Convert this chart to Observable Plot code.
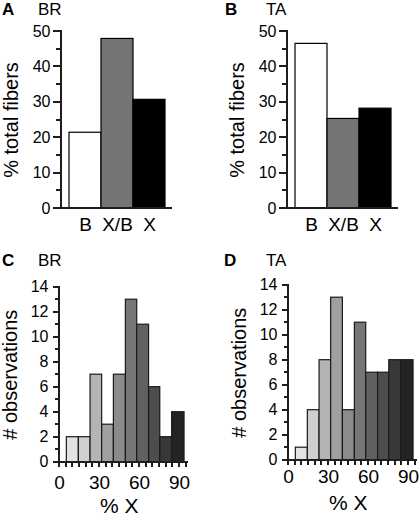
<!DOCTYPE html>
<html><head><meta charset="utf-8">
<script src="https://cdn.jsdelivr.net/npm/d3@7"></script>
<script src="https://cdn.jsdelivr.net/npm/@observablehq/plot@0.6"></script>
<style>
html,body{margin:0;padding:0;background:#fff;}
#fig{position:relative;width:420px;height:516px;overflow:hidden;background:#fff;font-family:"Liberation Sans",Arial,Helvetica,sans-serif;color:#000;}
.panel{position:absolute;}
.panel svg{display:block;overflow:visible;max-width:none !important;}
.tag{position:absolute;font-size:17px;line-height:17px;white-space:nowrap;}
.tag.letter{font-weight:bold;}
.ax{position:absolute;background:#1e1e1e;}
</style></head>
<body><div id="fig"></div>
<script>
const FONT = '"Liberation Sans", Arial, Helvetica, sans-serif';

// ---- Panels A / B: % total fibers by fiber type ----
const fiberTypes = ["B", "X/B", "X"];
const fiberColors = ["#ffffff", "#747474", "#000000"];
const brFiberPct = [21.4, 47.9, 30.7];
const taFiberPct = [46.5, 25.3, 28.2];
const pctMajorTicks = [0, 10, 20, 30, 40, 50];
const pctMinorTicks = [5, 15, 25, 35, 45];

// ---- Panels C / D: histogram of % X ----
const binEdges = [5.5, 14.5, 23.3, 32, 40.8, 49.8, 58.3, 67.2, 75.6, 84.5, 93.8];
const binColors = ["#e3e3e3", "#cfcfcf", "#b4b4b4", "#a0a0a0", "#8b8b8b", "#767676", "#616161", "#4d4d4d", "#383838", "#232323"];
const brCounts = [2, 2, 7, 3, 7, 13, 11, 6, 2, 4];
const taCounts = [1, 4, 8, 13, 4, 11, 7, 7, 8, 8];
const obsMajorTicks = [0, 2, 4, 6, 8, 10, 12, 14];
const obsMinorTicks = [1, 3, 5, 7, 9, 11, 13];
const pctXMajorTicks = [0, 30, 60, 90];
const pctXMinorTicks = [0, 5, 10, 15, 20, 25, 30, 35, 40, 45, 50, 55, 60, 65, 70, 75, 80, 85, 90, 95];

const panelLetters = ["A", "B", "C", "D"];
const panelMuscles = ["BR", "TA", "BR", "TA"];
const yTitleFibers = "% total fibers";
const yTitleObs = "# observations";
const xTitleHist = "% X";

const fig = document.getElementById("fig");

function place(el, left, top, w, h) {
  const d = document.createElement("div");
  d.className = "panel";
  d.style.left = left + "px";
  d.style.top = top + "px";
  d.style.width = w + "px";
  d.style.height = h + "px";
  el.style.width = w + "px";
  el.style.height = h + "px";
  el.style.maxWidth = "none";
  d.appendChild(el);
  fig.appendChild(d);
}
function tag(text, cls, left, top) {
  const d = document.createElement("div");
  d.className = "tag " + cls;
  d.style.left = left + "px";
  d.style.top = top + "px";
  d.textContent = text;
  fig.appendChild(d);
}
function seg(x, y, w, h) {
  const d = document.createElement("div");
  d.className = "ax";
  d.style.left = x + "px";
  d.style.top = y + "px";
  d.style.width = w + "px";
  d.style.height = h + "px";
  fig.appendChild(d);
}

// axis lines and tick marks, positioned from the plot's own scales
const LW = 2;
function drawAxes(plot, left, top, o) {
  const ys = plot.scale("y"), xs = plot.scale("x");
  const Y = v => Math.round(top + ys.apply(v));
  const x0 = Math.round(left + (o.xZero ? xs.apply(0) : xs.range[0]));
  const xEnd = Math.round(left + xs.range[1]);
  const yBase = Y(0), yTop = Y(o.yMax);
  seg(x0 - 1, yTop - 1, LW, yBase - yTop + LW);        // y axis line
  seg(x0 - 1, yBase - 1, xEnd - x0 + 1, LW);            // x axis line
  o.yMajor.forEach(v => seg(x0 - 1 - o.yMajorLen, Y(v) - 1, o.yMajorLen, LW));
  o.yMinor.forEach(v => seg(x0 - 1 - o.yMinorLen, Y(v) - 1, o.yMinorLen, LW));
  if (o.xTicks) o.xTicks.forEach(v => seg(Math.round(left + xs.apply(v)) - 1, yBase + 1, LW, o.xTickLen));
}

const FW = 205, FH = 245;
function fiberPanel(values) {
  const rows = fiberTypes.map((t, i) => ({type: t, pct: values[i]}));
  return Plot.plot({
    width: FW, height: FH,
    marginLeft: 61, marginRight: 33, marginTop: 31, marginBottom: 37,
    style: {fontFamily: FONT, color: "#000", background: "none", overflow: "visible"},
    x: {domain: fiberTypes, paddingInner: 0, paddingOuter: 0.2},
    y: {domain: [0, 50]},
    color: {domain: fiberTypes, range: fiberColors},
    marks: [
      Plot.barY(rows, {x: "type", y: "pct", fill: "type", stroke: "#000", strokeWidth: 1.2}),
      Plot.axisY(pctMajorTicks, {tickSize: 0, tickPadding: 11, fontSize: 16, label: null, fill: "#000"}),
      Plot.axisX({tickSize: 0, tickPadding: 8.5, fontSize: 19, label: null, fill: "#000"}),
      Plot.text([yTitleFibers], {text: d => d, frameAnchor: "left", rotate: -90, dx: -44, lineAnchor: "bottom", textAnchor: "middle", fontSize: 20, fill: "#000"})
    ]
  });
}

const HW = 205, HH = 256;
function histPanel(counts, tickPad, titleDy) {
  const rows = counts.map((c, i) => ({x1: binEdges[i], x2: binEdges[i + 1], count: c, color: binColors[i]}));
  return Plot.plot({
    width: HW, height: HH,
    marginLeft: 59, marginRight: 16.7, marginTop: 26.7, marginBottom: 54.3,
    style: {fontFamily: FONT, color: "#000", background: "none", overflow: "visible"},
    x: {domain: [0, 97]},
    y: {domain: [0, 14]},
    color: {type: "identity"},
    marks: [
      Plot.rect(rows, {x1: "x1", x2: "x2", y1: 0, y2: "count", fill: "color", stroke: "#1a1a1a", strokeWidth: 1.2}),
      Plot.axisY(obsMajorTicks, {tickSize: 0, tickPadding: 11, fontSize: 16, label: null, fill: "#000"}),
      Plot.axisX(pctXMajorTicks, {tickSize: 0, tickPadding: tickPad, fontSize: 19, label: null, fill: "#000"}),
      Plot.text([yTitleObs], {text: d => d, frameAnchor: "left", rotate: -90, dx: -43, lineAnchor: "bottom", textAnchor: "middle", fontSize: 20, fill: "#000"}),
      Plot.text([xTitleHist], {text: d => d, frameAnchor: "bottom", dx: -5, dy: titleDy, lineAnchor: "bottom", textAnchor: "middle", fontSize: 21, fill: "#000"})
    ]
  });
}

const panels = [
  {plot: fiberPanel(brFiberPct), left: 0, top: 0, w: FW, h: FH,
   axes: {yMax: 50, yMajor: pctMajorTicks, yMinor: pctMinorTicks, yMajorLen: 7, yMinorLen: 4}},
  {plot: fiberPanel(taFiberPct), left: 226, top: 0, w: FW, h: FH,
   axes: {yMax: 50, yMajor: pctMajorTicks, yMinor: pctMinorTicks, yMajorLen: 7, yMinorLen: 4}},
  {plot: histPanel(brCounts, 13, 50.5), left: 0, top: 260, w: HW, h: HH,
   axes: {xZero: true, yMax: 14, yMajor: obsMajorTicks, yMinor: obsMinorTicks, yMajorLen: 5, yMinorLen: 3, xTicks: pctXMinorTicks, xTickLen: 4}},
  {plot: histPanel(taCounts, 9, 50), left: 229, top: 258, w: HW, h: HH,
   axes: {xZero: true, yMax: 14, yMajor: obsMajorTicks, yMinor: obsMinorTicks, yMajorLen: 5, yMinorLen: 3, xTicks: pctXMinorTicks, xTickLen: 4}}
];
panels.forEach(p => {
  place(p.plot, p.left, p.top, p.w, p.h);
  drawAxes(p.plot, p.left, p.top, p.axes);
});

tag(panelLetters[0], "letter", 2, 1);
tag(panelMuscles[0], "", 38, 1);
tag(panelLetters[1], "letter", 225, 1);
tag(panelMuscles[1], "", 266, 1);
tag(panelLetters[2], "letter", 2, 252);
tag(panelMuscles[2], "", 38, 252);
tag(panelLetters[3], "letter", 224, 252);
tag(panelMuscles[3], "", 266, 252);
</script>
</body></html>
